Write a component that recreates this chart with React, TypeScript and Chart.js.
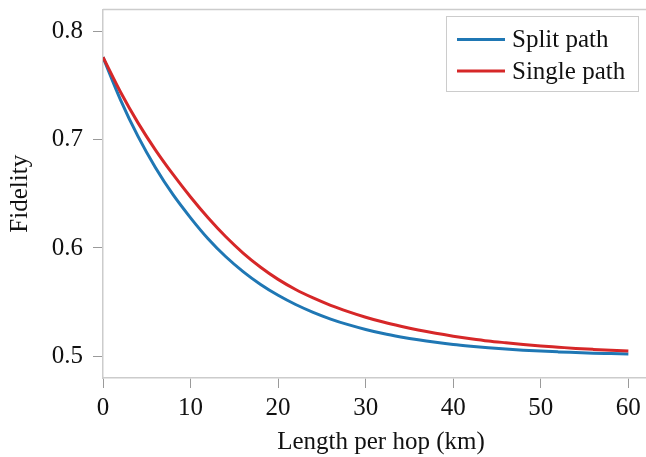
import React, { useEffect, useRef } from 'react';
import { Chart, registerables } from 'chart.js';

Chart.register(...registerables);

const lengths = [0, 2, 4, 6, 8, 10, 12, 14, 16, 18, 20, 22, 24, 26, 28, 30, 32, 34, 36, 38, 40, 42, 44, 46, 48, 50, 52, 54, 56, 58, 60];
const splitPath = [0.776, 0.7367, 0.7029, 0.674, 0.6491, 0.6278, 0.6085, 0.5921, 0.5782, 0.5663, 0.5563, 0.5478, 0.5406, 0.5344, 0.5292, 0.5248, 0.521, 0.5179, 0.5152, 0.5129, 0.5109, 0.5093, 0.5079, 0.5067, 0.5057, 0.5048, 0.5041, 0.5035, 0.5029, 0.5025, 0.5021];
const singlePath = [0.776, 0.7439, 0.7154, 0.6903, 0.6678, 0.647, 0.6278, 0.6105, 0.5953, 0.5822, 0.571, 0.5617, 0.5539, 0.5471, 0.5413, 0.5361, 0.5316, 0.5277, 0.5242, 0.5212, 0.5186, 0.5163, 0.5142, 0.5125, 0.5109, 0.5095, 0.5084, 0.5073, 0.5064, 0.5056, 0.5049];
const seriesNames = ['Split path', 'Single path'];
const seriesColors = ['#1f77b4', '#d62728'];
const xTicks = [0, 10, 20, 30, 40, 50, 60];
const yTicks = [0.5, 0.6, 0.7, 0.8];
const xLabel = 'Length per hop (km)';
const yLabel = 'Fidelity';

const FONT = '"Liberation Serif", "Times New Roman", serif';

const frameLines = {
  id: 'frameLines',
  beforeDatasetsDraw(chart: any) {
    const { ctx, chartArea } = chart;
    ctx.save();
    ctx.strokeStyle = '#cccccc';
    ctx.lineWidth = 1.5;
    ctx.beginPath();
    ctx.moveTo(chartArea.left, chartArea.top);
    ctx.lineTo(chartArea.right, chartArea.top);
    ctx.lineTo(chartArea.right, chartArea.bottom);
    ctx.stroke();
    ctx.restore();
  },
};

const boxLegend = {
  id: 'boxLegend',
  afterDraw(chart: any) {
    const ctx = chart.ctx;
    const x0 = 446.5;
    const y0 = 16.5;
    const w = 192;
    const h = 75;
    ctx.save();
    ctx.fillStyle = 'rgba(255,255,255,0.9)';
    ctx.fillRect(x0, y0, w, h);
    ctx.strokeStyle = '#cccccc';
    ctx.lineWidth = 1;
    ctx.strokeRect(x0, y0, w, h);
    chart.data.datasets.forEach((ds: any, i: number) => {
      const y = 39.5 + i * 31.5;
      ctx.strokeStyle = ds.borderColor;
      ctx.lineWidth = 3;
      ctx.beginPath();
      ctx.moveTo(457, y);
      ctx.lineTo(505, y);
      ctx.stroke();
      ctx.fillStyle = '#111111';
      ctx.font = `25px ${FONT}`;
      ctx.textAlign = 'left';
      ctx.textBaseline = 'middle';
      ctx.fillText(ds.label, 512, y + 1);
    });
    ctx.restore();
  },
};

export default function App() {
  const canvasRef = useRef<HTMLCanvasElement | null>(null);

  useEffect(() => {
    const canvas = canvasRef.current;
    if (!canvas) return;
    const chart = new Chart(canvas, {
      type: 'line',
      data: {
        labels: lengths,
        datasets: [
          {
            label: seriesNames[0],
            data: lengths.map((x, i) => ({ x, y: splitPath[i] })),
            borderColor: seriesColors[0],
            backgroundColor: seriesColors[0],
            borderWidth: 3,
            pointRadius: 0,
            cubicInterpolationMode: 'monotone',
            fill: false,
            order: 1,
          },
          {
            label: seriesNames[1],
            data: lengths.map((x, i) => ({ x, y: singlePath[i] })),
            borderColor: seriesColors[1],
            backgroundColor: seriesColors[1],
            borderWidth: 3,
            pointRadius: 0,
            cubicInterpolationMode: 'monotone',
            fill: false,
            order: 0,
          },
        ],
      },
      options: {
        animation: false,
        responsive: false,
        devicePixelRatio: 1,
        layout: { padding: { top: 9.5, right: 3, left: 0, bottom: 0 } },
        plugins: {
          legend: { display: false },
          tooltip: { enabled: false },
        },
        scales: {
          x: {
            type: 'linear',
            min: 0,
            max: 63.5,
            afterBuildTicks: (scale: any) => {
              scale.ticks = xTicks.map((v) => ({ value: v }));
            },
            afterFit: (scale: any) => {
              scale.height = 79;
            },
            ticks: {
              color: '#111111',
              font: { family: FONT, size: 25 },
              padding: 5,
              maxRotation: 0,
              callback: (v: any) => String(v),
            },
            grid: {
              drawOnChartArea: false,
              drawTicks: true,
              tickLength: 10,
              color: '#9a9a9a',
              lineWidth: 1,
            },
            border: { display: true, color: '#cccccc', width: 1.5 },
            title: {
              display: true,
              text: xLabel,
              color: '#111111',
              font: { family: FONT, size: 25, lineHeight: 1.2 },
              padding: { top: 0, bottom: 0 },
            },
          },
          y: {
            type: 'linear',
            min: 0.48,
            max: 0.82,
            afterBuildTicks: (scale: any) => {
              scale.ticks = yTicks.map((v) => ({ value: v }));
            },
            afterFit: (scale: any) => {
              scale.width = 103;
              scale.paddingTop = 0;
              scale.paddingBottom = 0;
            },
            ticks: {
              color: '#111111',
              font: { family: FONT, size: 25 },
              padding: 10,
              callback: (v: any) => Number(v).toFixed(1),
            },
            grid: {
              drawOnChartArea: false,
              drawTicks: true,
              tickLength: 10,
              color: '#9a9a9a',
              lineWidth: 1,
            },
            border: { display: true, color: '#cccccc', width: 1.5 },
            title: {
              display: true,
              text: yLabel,
              color: '#111111',
              font: { family: FONT, size: 25, lineHeight: 1.2 },
              padding: { top: 5, bottom: 0 },
            },
          },
        },
      },
      plugins: [frameLines, boxLegend],
    } as any);
    return () => {
      chart.destroy();
    };
  }, []);

  return (
    <div
      style={{
        position: 'absolute',
        left: 0,
        top: 0,
        width: 646,
        height: 457,
        overflow: 'hidden',
        background: '#ffffff',
      }}
    >
      <canvas ref={canvasRef} width={662} height={457} style={{ display: 'block' }} />
    </div>
  );
}
